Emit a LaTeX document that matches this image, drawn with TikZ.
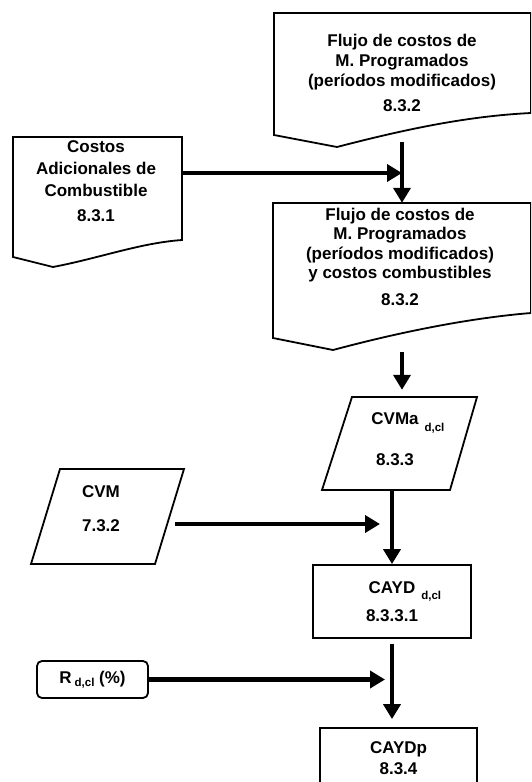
\documentclass[tikz,border=0pt]{standalone}
\usepackage{fontspec}
\setmainfont{Liberation Sans}
\usetikzlibrary{arrows.meta,calc}
\tikzstyle{arr}=[line width=4.6pt,-{Triangle[width=17pt,length=15pt]}]
\newcommand{\subdcl}[1]{\rlap{\hspace{6pt}\raisebox{-#1}{\fontsize{11.5}{12}\selectfont d,cl}}}

\begin{document}
\begin{tikzpicture}[x=1pt,y=-1pt,
	line/.style={line width=1.8pt,line join=miter},
	area/.style={inner sep=0pt},
	txt/.style={align=center,inner sep=0pt,font=\bfseries\fontsize{17}{20}\selectfont},
	box/.style={draw,line width=1.8pt,align=center,inner sep=0pt,font=\bfseries\fontsize{17}{20}\selectfont}]
	\useasboundingbox (0,0) rectangle (531,782);
	\clip (0,0) rectangle (531,782);
	% areas of the boxes
	\node[area,minimum width=256pt,minimum height=122pt] (0) at (402,74) {};
	\node[area,minimum width=169pt,minimum height=120pt] (1) at (97.5,197) {};
	\node[area,minimum width=258pt,minimum height=135pt] (2) at (402,270.5) {};
	\node[area,minimum width=126pt,minimum height=93pt] (3) at (402,443.5) {};
	\node[area,minimum width=135pt,minimum height=95pt] (4) at (107.5,516.5) {};
	% outlines
	\draw[line] (274,135) -- (274,13) -- (531,13) -- (531,113) .. controls (470,116) and (410,128) .. (337,147) -- cycle;
	\draw[line] (13,257) -- (13,137) -- (182,137) -- (182,240) .. controls (140,243) and (100,258) .. (53,267) -- cycle;
	\draw[line] (273,338) -- (273,203) -- (531,203) -- (531,313) .. controls (470,318) and (400,332) .. (333,350) -- cycle;
	\draw[line] (322,490) -- (352,397) -- (477,397) -- (450,490) -- cycle;
	\draw[line] (31,564) -- (60,469) -- (184,469) -- (155,564) -- cycle;
	% texts
	\node[txt] (0t) at (402,73) {Flujo de costos de\\M. Programados\\(períodos modificados)\\[5pt]8.3.2};
	\node[txt,font=\bfseries\fontsize{17}{22}\selectfont] (1t) at (96,181.5) {Costos\\Adicionales de\\Combustible\\[3pt]8.3.1};
	\node[txt,font=\bfseries\fontsize{17}{19.5}\selectfont] (2t) at (400,256.5) {Flujo de costos de\\M. Programados\\(períodos modificados)\\y costos combustibles\\[7pt]8.3.2};
	\node[txt] (3t) at (395,439) {CVMa\subdcl{7pt}\\[20pt]8.3.3};
	\node[txt] (4t) at (101,509) {CVM\\[14pt]7.3.2};
	\node[box,minimum width=158pt,minimum height=73pt] (5) at (392,601.5) {CAYD\subdcl{6pt}\\[8pt]8.3.3.1};
	\node[box,minimum width=157pt,minimum height=60pt] (6) at (398.5,758) {CAYDp\\[1pt]8.3.4};
	\node[box,rounded corners=5pt,minimum width=111pt,minimum height=37pt] (7) at (92.5,679.5) {R\hspace{3pt}\raisebox{-3pt}{\fontsize{11.5}{12}\selectfont d,cl} (\%)};
	% connectors
	\draw[arr] (1.east |- 0,173) -- (2.north |- 0,173);
	\draw[arr] ([yshift=-7pt]0.south) -- (2.north);
	\draw[arr,shorten >=7pt] ([yshift=-14pt]2.south) -- (3.north);
	\draw[arr] (3.south -| 5.north) -- (5.north);
	\draw[arr,shorten >=12pt] (4.east |- 0,524) -- (5.north |- 0,524);
	\draw[arr,shorten >=7pt] (7.east) -- (7.east -| 5.south);
	\draw[arr,shorten <=5pt,shorten >=8pt] (5.south) -- (5.south |- 6.north);
\end{tikzpicture}
\end{document}
